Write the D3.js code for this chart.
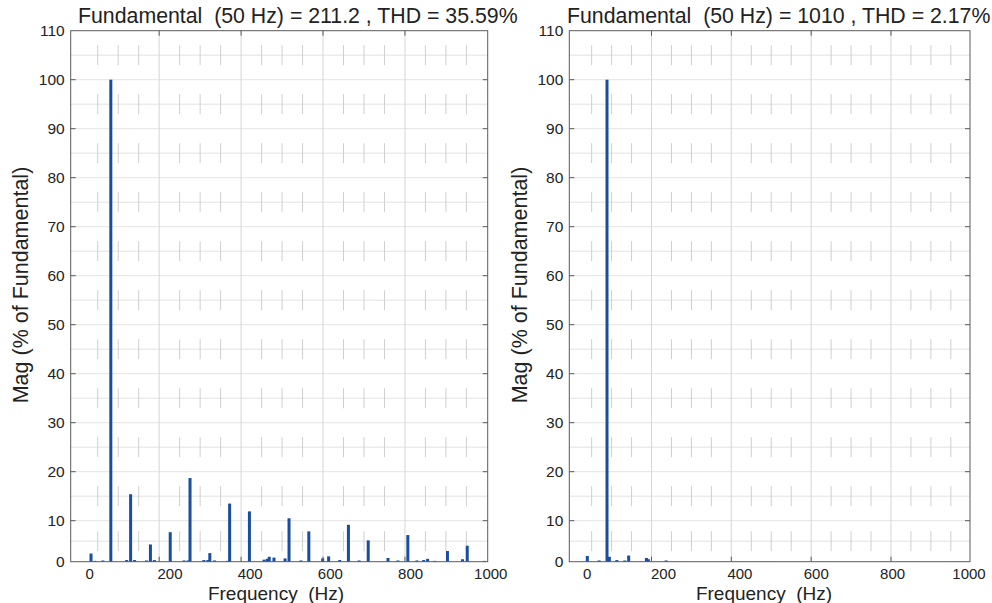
<!DOCTYPE html>
<html lang="en">
<head>
  <meta charset="UTF-8">
  <title>FFT spectrum</title>
  <script src="https://d3js.org/d3.v7.min.js"></script>
  <style>
    body { margin: 0; background: #fff; }
    text { font-family: "Liberation Sans", Arial, sans-serif; fill: #222; white-space: pre; }
  </style>
</head>
<body>
  <div id="chart"></div>
  <script>
    // harmonic spectrum, left panel (% of fundamental)
    const freqL = [0, 50, 100, 150, 200, 250, 300, 350, 400, 450, 500, 550, 600, 650, 700, 750, 800, 850, 900, 950];
    const magL = [2.0, 100, 15.4, 4.2, 7.2, 18.7, 2.1, 13.5, 11.9, 1.2, 10.5, 7.4, 1.3, 9.0, 5.2, 0.9, 6.5, 0.7, 2.6, 3.9];
    // small interharmonic bins, left panel
    const noiseFreqL = [10, 30, 90, 110, 140, 160, 235, 245, 285, 295, 312, 345, 437, 445, 462, 490, 530, 585, 628, 677, 775, 823, 840, 868, 938, 993];
    const noiseMagL = [0.2, 0.3, 0.4, 0.4, 0.3, 0.4, 0.3, 0.3, 0.4, 0.4, 0.3, 0.2, 0.5, 0.7, 1.0, 0.8, 0.3, 0.8, 0.4, 0.3, 0.3, 0.3, 0.4, 0.2, 0.6, 0.2];

    // right panel
    const freqR = [0, 30, 50, 56, 75, 95, 105, 150, 155, 200];
    const magR = [1.4, 0.3, 100, 1.2, 0.4, 0.3, 1.5, 0.9, 0.6, 0.3];

    const titles = [
      "Fundamental  (50 Hz) = 211.2 , THD = 35.59%",
      "Fundamental  (50 Hz) = 1010 , THD = 2.17%"
    ];
    const xTicks = [0, 200, 400, 600, 800, 1000];
    const xMinor = [50, 100, 150, 250, 300, 350, 450, 500, 550, 650, 700, 750, 850, 900, 950];
    const yTicks = [0, 10, 20, 30, 40, 50, 60, 70, 80, 90, 100, 110];
    const yMinor = [5, 15, 25, 35, 45, 55, 65, 75, 85, 95, 105];

    const width = 992, height = 603;
    const barColor = "#1a4d9e";

    const svg = d3.select("#chart").append("svg")
      .attr("width", width)
      .attr("height", height);

    svg.append("rect").attr("width", width).attr("height", height).attr("fill", "#fff");

    function drawPanel(p) {
      const g = svg.append("g");
      const x0 = p.left, x1 = p.right, yTop = 30.7, yBot = 561.7;

      // y: the 0-10 band is squeezed in the source picture
      const y = d3.scaleLinear().domain([0, 10, 110]).range([yBot, 520.7, yTop]);
      const xGrid = d3.scaleLinear().domain(p.gridDomain).range([x0, x1]);
      const xBar = d3.scaleLinear().domain(p.barDomain).range([x0, x1]);
      const xLab = d3.scaleLinear().domain(p.labDomain).range([x0, x1]);

      // minor horizontal grid
      g.append("g").selectAll("line").data(yMinor).join("line")
        .attr("x1", x0).attr("x2", x1)
        .attr("y1", d => y(d)).attr("y2", d => y(d))
        .attr("stroke", "#e2e2e2");

      // major horizontal grid
      g.append("g").selectAll("line").data(yTicks.slice(1, -1)).join("line")
        .attr("x1", x0).attr("x2", x1)
        .attr("y1", d => y(d)).attr("y2", d => y(d))
        .attr("stroke", "#e4e4e4");

      // minor vertical grid, dotted look (short dashes around minor rows)
      const dashes = [];
      xMinor.forEach(f => yMinor.forEach(v => dashes.push([f, v])));
      g.append("g").selectAll("line").data(dashes).join("line")
        .attr("x1", d => xGrid(d[0])).attr("x2", d => xGrid(d[0]))
        .attr("y1", d => Math.max(yTop, y(d[1]) - 10)).attr("y2", d => Math.min(yBot, y(d[1]) + 10))
        .attr("stroke", "#cfcfcf");

      // major vertical grid
      g.append("g").selectAll("line").data(xTicks.slice(1, -1)).join("line")
        .attr("x1", d => xGrid(d)).attr("x2", d => xGrid(d))
        .attr("y1", yTop).attr("y2", yBot)
        .attr("stroke", "#d6d6d6");

      // bars
      const bars = p.noiseFreq.map((f, i) => [f, p.noiseMag[i]])
        .concat(p.freq.map((f, i) => [f, p.mag[i]]));
      g.append("g").selectAll("rect").data(bars).join("rect")
        .attr("x", d => xBar(d[0]) - 1.5)
        .attr("y", d => y(d[1]))
        .attr("width", 3)
        .attr("height", d => yBot - y(d[1]))
        .attr("fill", barColor);

      // box
      g.append("rect")
        .attr("x", x0).attr("y", yTop)
        .attr("width", x1 - x0).attr("height", yBot - yTop)
        .attr("fill", "none").attr("stroke", "#5a5a5a").attr("stroke-width", 1);

      // inward tick marks
      const tk = g.append("g").attr("stroke", "#5a5a5a");
      tk.selectAll(".yl").data(yTicks.slice(1, -1)).join("line")
        .attr("x1", x0).attr("x2", x0 + 5).attr("y1", d => y(d)).attr("y2", d => y(d));
      tk.selectAll(".yr").data(yTicks.slice(1, -1)).join("line")
        .attr("x1", x1 - 5).attr("x2", x1).attr("y1", d => y(d)).attr("y2", d => y(d));
      tk.selectAll(".xt").data(xTicks.slice(1, -1)).join("line")
        .attr("x1", d => xGrid(d)).attr("x2", d => xGrid(d)).attr("y1", yTop).attr("y2", yTop + 5);
      tk.selectAll(".xb").data(xTicks.slice(1, -1)).join("line")
        .attr("x1", d => xGrid(d)).attr("x2", d => xGrid(d)).attr("y1", yBot - 5).attr("y2", yBot);

      // tick labels
      g.append("g").selectAll("text").data(yTicks).join("text")
        .attr("x", x0 - 6).attr("y", d => y(d)).attr("dy", "0.35em")
        .attr("text-anchor", "end").attr("font-size", 15.5)
        .text(d => d);
      g.append("g").selectAll("text").data(xTicks).join("text")
        .attr("x", d => xLab(d)).attr("y", 578.5)
        .attr("text-anchor", "middle").attr("font-size", 15)
        .text(d => d);

      // titles and axis labels
      g.append("text")
        .attr("x", p.titleX).attr("y", 23)
        .attr("font-size", 21.3)
        .text(p.title);
      g.append("text")
        .attr("x", p.xLabelX).attr("y", 599.5)
        .attr("text-anchor", "middle").attr("font-size", 19)
        .text("Frequency  (Hz)");
      g.append("text")
        .attr("transform", `translate(${p.yLabelX},285) rotate(-90)`)
        .attr("text-anchor", "middle").attr("font-size", 21.5)
        .text("Mag (% of Fundamental)");
    }

    drawPanel({
      left: 70.7, right: 487.7,
      gridDomain: [-16, 1002], barDomain: [-51.3, 1001.7], labDomain: [-47.6, 992.3],
      freq: freqL, mag: magL, noiseFreq: noiseFreqL, noiseMag: noiseMagL,
      title: titles[0], titleX: 78, xLabelX: 276, yLabelX: 28
    });

    drawPanel({
      left: 569.3, right: 970,
      gridDomain: [-6, 998], barDomain: [-45.7, 971.3], labDomain: [-46.8, 1002.6],
      freq: freqR, mag: magR, noiseFreq: [], noiseMag: [],
      title: titles[1], titleX: 567, xLabelX: 764, yLabelX: 527
    });
  </script>
</body>
</html>
